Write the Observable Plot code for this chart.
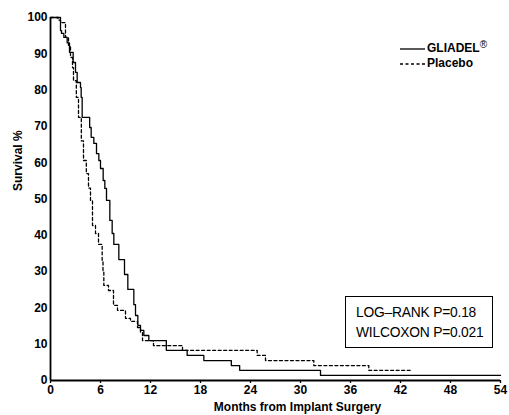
<!DOCTYPE html>
<html>
<head>
<meta charset="utf-8">
<script src="https://cdn.jsdelivr.net/npm/d3@7"></script>
<script src="https://cdn.jsdelivr.net/npm/@observablehq/plot@0.6"></script>
<style>
  html, body { margin: 0; padding: 0; background: #fff; }
  #wrap { position: relative; width: 509px; height: 415px; font-family: "Liberation Sans", Arial, Helvetica, sans-serif; }
  .leg { position: absolute; font-size: 12px; font-weight: bold; color: #000; line-height: 12px; white-space: nowrap; }
  .leg svg { vertical-align: middle; margin-right: 1px; }
  #stats { position: absolute; left: 345px; top: 296px; width: 146px; height: 50px; border: 1px solid #000; background: #fff; font-size: 13.8px; color: #000; }
  #stats div { position: absolute; left: 10px; white-space: nowrap; letter-spacing: -0.2px; }
</style>
</head>
<body>
<div id="wrap"></div>
<script>
// Kaplan-Meier step data
const gliadelTime = [0, 1.2, 1.32, 1.6, 2.0, 2.28, 2.72, 3.0, 3.2, 3.6, 3.68, 3.8, 4.7, 4.88, 5.2, 5.52, 5.8, 6.0, 6.32, 6.52, 6.72, 7.12, 7.4, 7.6, 8.2, 8.88, 9.28, 10.0, 10.2, 10.48, 10.8, 11.2, 11.8, 13.9, 16.4, 18.4, 21.7, 22.7, 32.4, 54];
const gliadelSurv = [100, 96.4, 95.6, 94.5, 93.0, 90.4, 87.6, 84.9, 82.1, 80.7, 78.0, 72.5, 69.7, 67.0, 65.3, 62.5, 60.6, 58.4, 55.1, 52.9, 49.6, 44.1, 40.5, 37.5, 33.3, 29.2, 25.1, 20.9, 17.9, 15.2, 13.8, 12.4, 11.0, 8.3, 6.9, 5.5, 4.1, 2.8, 1.4, 1.4];

const placeboTime = [0, 0.9, 1.2, 1.8, 2.16, 2.4, 2.64, 2.76, 3.1, 3.36, 3.7, 3.96, 4.3, 4.56, 4.8, 5.04, 5.4, 5.76, 6.2, 6.3, 6.4, 6.96, 7.56, 8.04, 9.0, 9.6, 10.44, 10.8, 11.04, 12.36, 15.84, 24.8, 25.8, 31.6, 38.2, 43.4];
const placeboSurv = [100, 99.3, 98.6, 94.5, 92.3, 89.0, 86.2, 82.6, 78.0, 72.5, 66.0, 60.6, 57.0, 53.0, 49.6, 42.7, 40.5, 37.5, 33.0, 30.0, 26.2, 24.8, 20.7, 19.3, 17.1, 16.3, 14.6, 13.2, 11.0, 9.6, 8.3, 6.9, 5.5, 4.1, 2.8, 2.8];

const xTicks = [0, 6, 12, 18, 24, 30, 36, 42, 48, 54];
const yTicks = [0, 10, 20, 30, 40, 50, 60, 70, 80, 90, 100];
const seriesNames = ["GLIADEL", "Placebo"];
const statLines = ["LOG\u2013RANK P=0.18", "WILCOXON P=0.021"];
const xLabel = "Months from Implant Surgery";
const yLabel = "Survival %";

const gliadel = gliadelTime.map((t, i) => ({t, s: gliadelSurv[i]}));
const placebo = placeboTime.map((t, i) => ({t, s: placeboSurv[i]}));

const chart = Plot.plot({
  width: 509,
  height: 415,
  marginLeft: 50,
  marginRight: 9,
  marginTop: 17,
  marginBottom: 35,
  style: {fontFamily: '"Liberation Sans", Arial, Helvetica, sans-serif', color: "#000", background: "#fff"},
  x: {domain: [0, 54]},
  y: {domain: [0, 100]},
  marks: [
    Plot.axisX({ticks: xTicks, tickSize: 3, tickPadding: 2, fontSize: 12, fontWeight: "bold", label: null, strokeWidth: 1.3}),
    Plot.axisY({ticks: yTicks, tickSize: 0, tickPadding: 3, fontSize: 12, fontWeight: "bold", label: null}),
    Plot.line(placebo, {x: "t", y: "s", curve: "step-after", stroke: "#000", strokeWidth: 1.3, strokeDasharray: "3,2.5"}),
    Plot.line(gliadel, {x: "t", y: "s", curve: "step-after", stroke: "#000", strokeWidth: 1.3}),
    Plot.ruleX([0], {stroke: "#000", strokeWidth: 1.8}),
    Plot.ruleY([0], {stroke: "#000", strokeWidth: 1.8}),
    Plot.text([yLabel], {frameAnchor: "left", rotate: -90, dx: -32, dy: -8, fontSize: 12, fontWeight: "bold"}),
    Plot.text([xLabel], {frameAnchor: "bottom", dx: 22, dy: 30, fontSize: 12, fontWeight: "bold"})
  ]
});

const wrap = document.getElementById("wrap");
wrap.appendChild(chart);

// legend
const leg1 = document.createElement("div");
leg1.className = "leg";
leg1.style.left = "400px";
leg1.style.top = "42px";
leg1.innerHTML = '<svg width="26" height="6"><line x1="0" y1="3" x2="25" y2="3" stroke="#000" stroke-width="1.3"/></svg>' + seriesNames[0] + '<sup style="font-size:10px;font-weight:normal;vertical-align:4px;line-height:0">\u00AE</sup>';
wrap.appendChild(leg1);
const leg2 = document.createElement("div");
leg2.className = "leg";
leg2.style.left = "400px";
leg2.style.top = "57px";
leg2.innerHTML = '<svg width="26" height="6"><line x1="0" y1="3" x2="25" y2="3" stroke="#000" stroke-width="1.3" stroke-dasharray="3,2.5"/></svg>' + seriesNames[1];
wrap.appendChild(leg2);

// stats box
const box = document.createElement("div");
box.id = "stats";
statLines.forEach((s, i) => {
  const d = document.createElement("div");
  d.textContent = s;
  d.style.top = (8 + i * 20) + "px";
  box.appendChild(d);
});
wrap.appendChild(box);
</script>
</body>
</html>
